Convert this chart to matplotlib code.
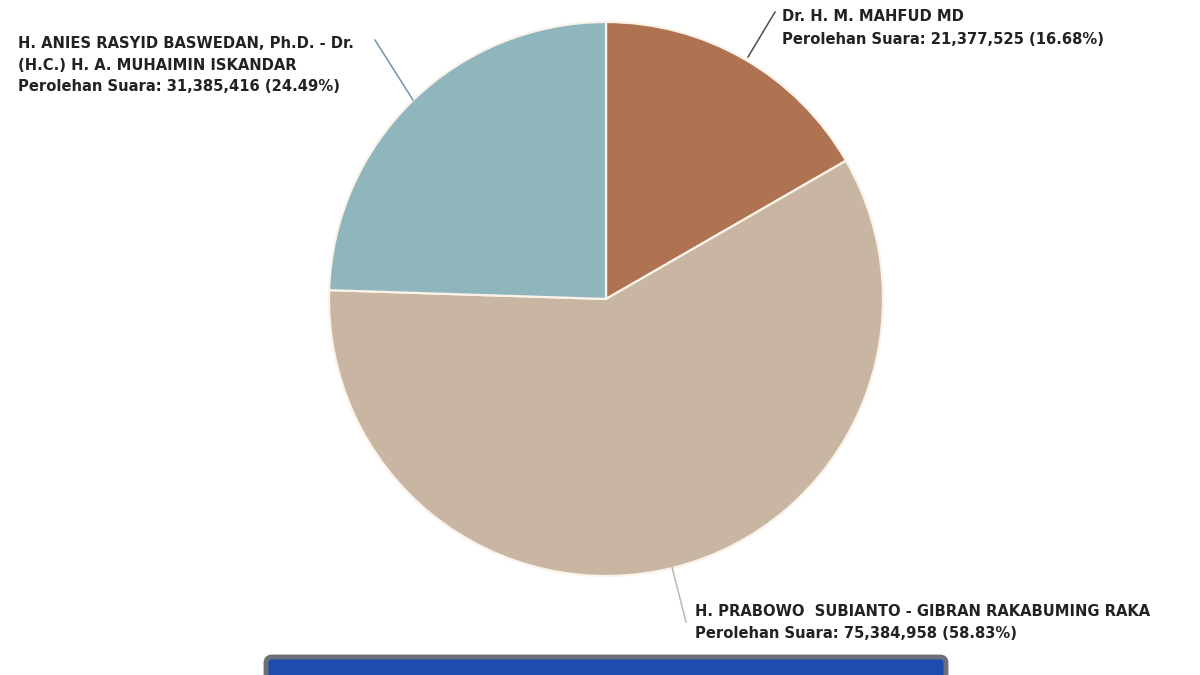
#!/usr/bin/env python3
"""Pie chart of 2024 presidential vote count (Perolehan Suara)."""

import matplotlib

matplotlib.use("Agg")
import matplotlib.pyplot as plt
from matplotlib.patches import FancyBboxPatch

plt.rcParams["font.family"] = ["DejaVu Sans"]

# order: clockwise from 12 o'clock
candidates = [
    "H. GANJAR PRANOWO, S.H., M.IP. - Prof. Dr.\nDr. H. M. MAHFUD MD",
    "H. PRABOWO  SUBIANTO - GIBRAN RAKABUMING RAKA",
    "H. ANIES RASYID BASWEDAN, Ph.D. - Dr.\n(H.C.) H. A. MUHAIMIN ISKANDAR",
]
votes = [21377525, 75384958, 31385416]
percents = [16.68, 58.83, 24.49]
colors = ["#b07352", "#c9b6a2", "#8fb6bd"]
leader_colors = ["#5a4a44", "#c4b6a8", "#6f95a6"]

W, H = 1200, 675


def py(y):
    # pixel row (from top) -> data y
    return H - y


fig = plt.figure(figsize=(12, 6.75), dpi=100)
ax = fig.add_axes([0, 0, 1, 1])

cx, cy, r = 606, 299, 277
ax.pie(
    votes,
    colors=colors,
    startangle=90,
    counterclock=False,
    center=(cx, py(cy)),
    radius=r,
    wedgeprops=dict(edgecolor="#fbf3ea", linewidth=1.6),
)
ax.set_xlim(0, W)
ax.set_ylim(0, H)
ax.set_aspect("equal")
ax.axis("off")

txt = dict(fontsize=10.6, fontweight="bold", color="#222222", va="center", ha="left")

# labels: (x, first line y in px, line step)
label_pos = [(782, -7, 23.5), (695, 612, 22), (18, 43.5, 21.5)]
for name, v, p, (tx, ty, step) in zip(candidates, votes, percents, label_pos):
    lines = name.split("\n") + [f"Perolehan Suara: {v:,} ({p:.2f}%)"]
    for i, line in enumerate(lines):
        ax.text(tx, py(ty + i * step), line, **txt)

# leader lines
leaders = [
    ((748, 57), (775, 12)),
    ((672, 567), (686, 622)),
    ((413, 100), (375, 40)),
]
for ((x0, y0), (x1, y1)), lc in zip(leaders, leader_colors):
    ax.plot([x0, x1], [py(y0), py(y1)], color=lc, linewidth=1.1)

# blue banner at the bottom
ax.add_patch(
    FancyBboxPatch(
        (266, py(700)), 680, 43,
        boxstyle="round,pad=0,rounding_size=6",
        facecolor="#1f4bb0", edgecolor="#6b6f78", linewidth=3.5,
        clip_on=True,
    )
)

fig.savefig("out.png", dpi=100, facecolor="white")
plt.close(fig)
